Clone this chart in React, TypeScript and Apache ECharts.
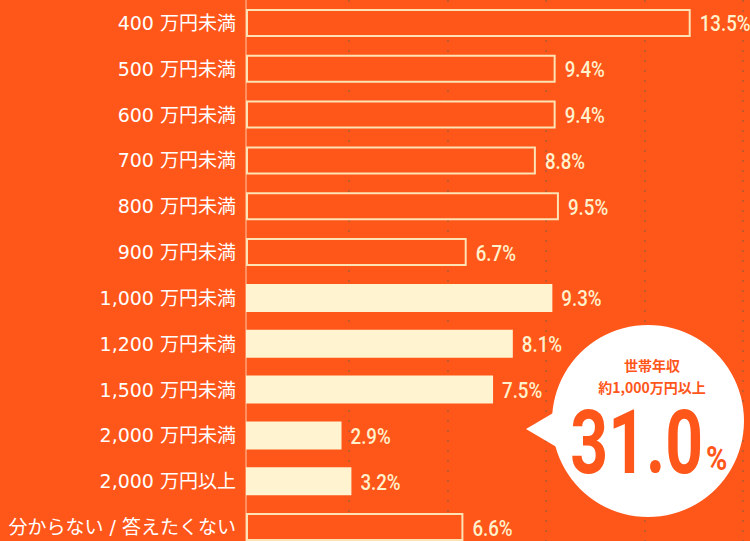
import React, { useEffect, useRef } from "react";
import * as echarts from "echarts";

const categories = [
  "400 万円未満",
  "500 万円未満",
  "600 万円未満",
  "700 万円未満",
  "800 万円未満",
  "900 万円未満",
  "1,000 万円未満",
  "1,200 万円未満",
  "1,500 万円未満",
  "2,000 万円未満",
  "2,000 万円以上",
  "分からない / 答えたくない",
];
const values = [13.5, 9.4, 9.4, 8.8, 9.5, 6.7, 9.3, 8.1, 7.5, 2.9, 3.2, 6.6];
const highlighted = [false, false, false, false, false, false, true, true, true, true, true, false];
const calloutTitle = "世帯年収";
const calloutSub = "約1,000万円以上";
const calloutValue = "31.0";

const BG = "#ff561a";
const CREAM = "#fff4cf";
const BORDER = "#fde2b3";
const NUM = "Roboto, 'Liberation Sans', sans-serif";
const JP = "'Noto Sans CJK JP', 'Noto Sans', sans-serif";
const CAT = "'DejaVu Sans', 'Noto Sans CJK JP', sans-serif";

export default function App() {
  const ref = useRef<HTMLDivElement>(null);
  useEffect(() => {
    if (!ref.current) return;
    const chart = echarts.init(ref.current, null, { renderer: "svg" });
    chart.setOption({
      animation: false,
      backgroundColor: BG,
      grid: [
        { left: 246, right: 0, top: 0, bottom: 0 },
        { left: 349, right: 7, top: 0, bottom: 0 },
      ],
      xAxis: [
        {
          type: "value",
          gridIndex: 0,
          min: 0,
          max: 15.3,
          axisLabel: { show: false },
          axisLine: { show: false },
          axisTick: { show: false },
          splitLine: { show: false },
        },
        {
          type: "value",
          gridIndex: 1,
          min: 0,
          max: 4,
          interval: 1,
          axisLabel: { show: false },
          axisLine: { show: false },
          axisTick: { show: false },
          splitLine: {
            show: true,
            lineStyle: { type: [2, 8], color: "#b05c35", width: 1.5 },
          },
        },
      ],
      yAxis: [
        {
          type: "category",
          gridIndex: 0,
          data: categories,
          inverse: true,
          offset: 3,
          axisLine: { show: true, lineStyle: { color: "#ff8f5f", width: 2 } },
          axisTick: { show: false },
          axisLabel: {
            color: "#ffffff",
            fontFamily: CAT,
            fontSize: 19,
            margin: 7,
          },
        },
        {
          type: "value",
          gridIndex: 1,
          show: false,
          splitLine: { show: false },
        },
      ],
      series: [
        {
          type: "bar",
          xAxisIndex: 0,
          yAxisIndex: 0,
          barWidth: 28,
          data: values.map((v, i) => ({
            value: v,
            itemStyle: highlighted[i]
              ? { color: CREAM, borderWidth: 0 }
              : { color: BG, borderColor: BORDER, borderWidth: 2 },
          })),
        },
        {
          type: "custom",
          xAxisIndex: 0,
          yAxisIndex: 0,
          encode: { x: 0, y: 1 },
          data: values.map((v, i) => [v, i]),
          renderItem: (params: any, api: any) => {
            const v = api.value(0);
            const pt = api.coord([v, api.value(1)]);
            return {
              type: "text",
              x: pt[0] + 9,
              y: pt[1] + 1,
              scaleX: 0.85,
              style: {
                text: `${Number(v).toFixed(1)}%`,
                fill: "#fff1cc",
                font: `500 22px ${NUM}`,
                textAlign: "left",
                textVerticalAlign: "middle",
              },
            };
          },
        },
      ],
      graphic: [
        {
          type: "polygon",
          z: 100,
          shape: { points: [[526, 429], [565, 406], [565, 452]] },
          style: { fill: "#ffffff" },
        },
        {
          type: "circle",
          z: 100,
          shape: { cx: 648, cy: 421, r: 96 },
          style: { fill: "#ffffff" },
        },
        {
          type: "text",
          z: 101,
          x: 652,
          y: 365,
          style: {
            text: calloutTitle,
            fill: BG,
            font: `bold 14px ${JP}`,
            textAlign: "center",
            textVerticalAlign: "middle",
          },
        },
        {
          type: "text",
          z: 101,
          x: 652,
          y: 387,
          style: {
            text: calloutSub,
            fill: BG,
            font: `bold 14px ${JP}`,
            textAlign: "center",
            textVerticalAlign: "middle",
          },
        },
        {
          type: "text",
          z: 101,
          x: 703,
          y: 443,
          scaleX: 0.75,
          style: {
            text: calloutValue,
            fill: BG,
            font: `bold 88px ${NUM}`,
            lineHeight: 66,
            textAlign: "right",
            textVerticalAlign: "middle",
          },
        },
        {
          type: "text",
          z: 101,
          x: 706,
          y: 459,
          scaleX: 0.85,
          style: {
            text: "%",
            fill: BG,
            font: `bold 34px ${NUM}`,
            textAlign: "left",
            textVerticalAlign: "middle",
          },
        },
      ],
    });
    return () => chart.dispose();
  }, []);
  return (
    <div style={{ position: "absolute", left: 0, top: 0, width: 750, height: 541, overflow: "hidden" }}>
      <div ref={ref} style={{ width: 750, height: 550 }} />
    </div>
  );
}
